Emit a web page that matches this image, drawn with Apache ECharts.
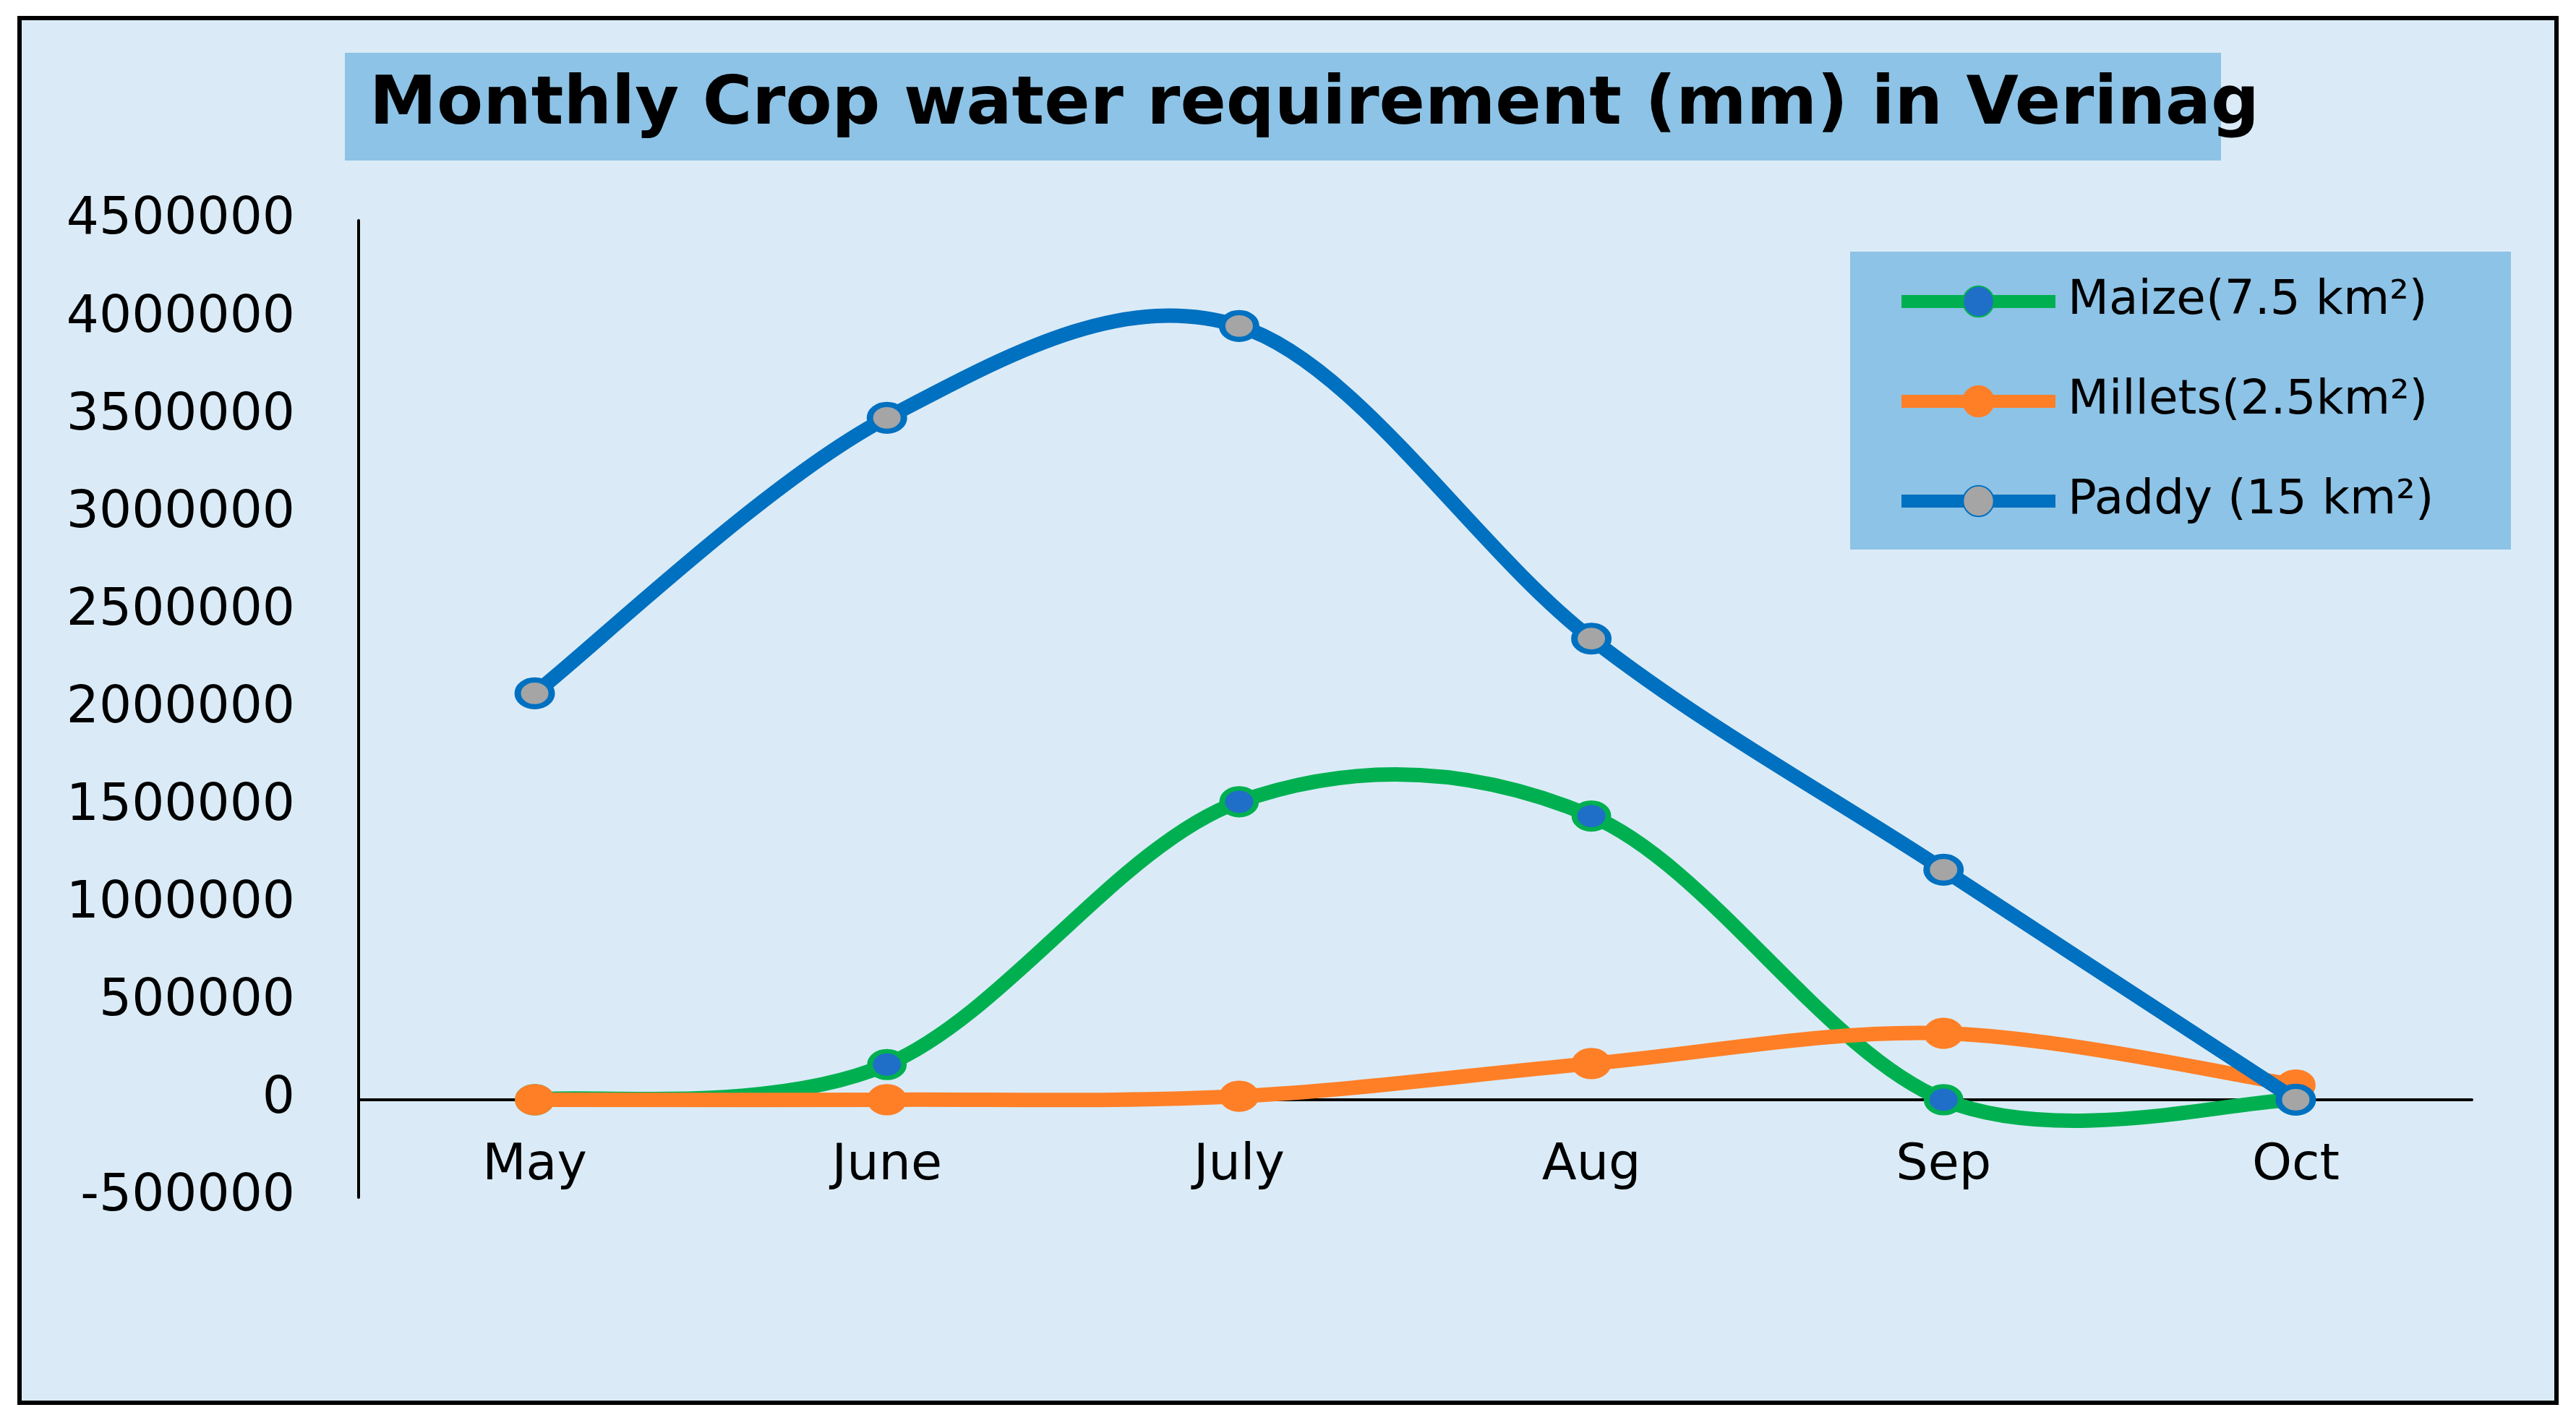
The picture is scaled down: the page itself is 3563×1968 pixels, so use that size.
<!DOCTYPE html>
<html>
<head>
<meta charset="utf-8">
<title>Monthly Crop water requirement</title>
<script src="https://cdn.jsdelivr.net/npm/echarts@6/dist/echarts.min.js"></script>
<style>
    html, body { margin: 0; padding: 0; background: #fff; }
    #chart { width: 3563px; height: 1968px; }
</style>
</head>
<body>
<div id="chart"></div>
<script>
// months on the x axis
var months = ['May', 'June', 'July', 'Aug', 'Sep', 'Oct'];

// crop water requirement per month
var maize = [0, 180000, 1525000, 1452000, 0, 0];
var millets = [0, 0, 18000, 185000, 340000, 75000];
var paddy = [2080000, 3490000, 3960000, 2360000, 1177000, 0];

// y axis range
var yMin = -500000;
var yMax = 4500000;
var yStep = 500000;

var seriesNames = ['Maize(7.5 km²)', 'Millets(2.5km²)', 'Paddy (15 km²)'];

window.onload = function () {
    var chart = echarts.init(document.getElementById('chart'));

    // excel-like smoothed line (catmull-rom), one bezier per segment
    function curve(values, color) {
        return function (params, api) {
            var i = params.dataIndex;
            if (i >= values.length - 1) return null;
            var pt = function (k) {
                k = Math.max(0, Math.min(values.length - 1, k));
                return api.coord([k, values[k]]);
            };
            var p0 = pt(i - 1), p1 = pt(i), p2 = pt(i + 1), p3 = pt(i + 2);
            return {
                type: 'bezierCurve',
                shape: {
                    x1: p1[0], y1: p1[1], x2: p2[0], y2: p2[1],
                    cpx1: p1[0] + (p2[0] - p0[0]) / 6,
                    cpy1: p1[1] + (p2[1] - p0[1]) / 6,
                    cpx2: p2[0] - (p3[0] - p1[0]) / 6,
                    cpy2: p2[1] - (p3[1] - p1[1]) / 6
                },
                style: { stroke: color, fill: null, lineWidth: 20, lineCap: 'round' }
            };
        };
    }

    function pairs(values) {
        return values.map(function (v, i) { return [i, v]; });
    }

    // markers only, the line is drawn by the custom series
    function markers(name, values, fill, border, bw, z) {
        return {
            name: name,
            type: 'line',
            data: values,
            z: z,
            symbol: 'circle',
            symbolSize: [47, 37],
            showSymbol: true,
            lineStyle: { width: 20, color: border, opacity: 0 },
            itemStyle: { color: fill, borderColor: border, borderWidth: bw },
            emphasis: { disabled: true }
        };
    }

    function curveSeries(name, values, color, z) {
        return {
            name: name,
            type: 'custom',
            z: z,
            data: pairs(values),
            encode: { x: 0, y: 1 },
            renderItem: curve(values, color)
        };
    }

    var option = {
        backgroundColor: '#ffffff',
        animation: false,
        textStyle: { fontFamily: 'DejaVu Sans' },
        graphic: [
            // outer frame
            {
                type: 'rect', z: -10,
                shape: { x: 27, y: 25, width: 3509, height: 1915 },
                style: { fill: '#DAEBF7', stroke: '#000', lineWidth: 6 }
            },
            // title band
            {
                type: 'rect', z: -9,
                shape: { x: 477, y: 73, width: 2595, height: 149 },
                style: { fill: '#8DC3E6' }
            },
            // legend band
            {
                type: 'rect', z: -9,
                shape: { x: 2559, y: 348, width: 914, height: 412 },
                style: { fill: '#8DC3E6' }
            }
        ],
        title: {
            text: 'Monthly Crop water requirement (mm) in Verinag',
            left: 511,
            top: 100,
            padding: 0,
            textStyle: { fontFamily: 'DejaVu Sans', fontWeight: 'bold', fontSize: 93.5, color: '#000' }
        },
        legend: {
            orient: 'vertical',
            left: 2621,
            top: 384,
            itemWidth: 213,
            itemHeight: 53,
            itemGap: 72,
            padding: 0,
            textStyle: { fontFamily: 'DejaVu Sans', fontSize: 66, color: '#000', padding: [0, 0, 0, 12] },
            data: [
                { name: seriesNames[0], lineStyle: { color: '#00B050', width: 18, opacity: 1 } },
                { name: seriesNames[1], lineStyle: { color: '#FF7F27', width: 18, opacity: 1 } },
                { name: seriesNames[2], lineStyle: { color: '#0070C0', width: 18, opacity: 1 } }
            ]
        },
        grid: { left: 496, right: 144, top: 305, bottom: 312, containLabel: false },
        xAxis: {
            type: 'category',
            data: months,
            boundaryGap: true,
            axisLine: { show: true, onZero: true, lineStyle: { color: '#000', width: 4 } },
            axisTick: { show: false },
            // labels sit just under the zero line, not at the grid bottom
            axisLabel: { fontFamily: 'DejaVu Sans', fontSize: 70, color: '#000', margin: -78 },
            splitLine: { show: false }
        },
        yAxis: {
            type: 'value',
            min: yMin,
            max: yMax,
            interval: yStep,
            axisLine: { show: true, lineStyle: { color: '#000', width: 4 } },
            axisTick: { show: false },
            splitLine: { show: false },
            axisLabel: {
                fontFamily: 'DejaVu Sans', fontSize: 71, color: '#000', margin: 88,
                formatter: function (v) { return String(v); }
            }
        },
        series: [
            curveSeries('maize-line', maize, '#00B050', 2),
            markers(seriesNames[0], maize, '#1F6FC8', '#00B050', 7, 3),
            curveSeries('millets-line', millets, '#FF7F27', 4),
            markers(seriesNames[1], millets, '#FF7F27', '#FF7F27', 7, 5),
            curveSeries('paddy-line', paddy, '#0070C0', 6),
            markers(seriesNames[2], paddy, '#A5A5A5', '#0070C0', 8, 7)
        ]
    };

    chart.setOption(option);
};
</script>
</body>
</html>
